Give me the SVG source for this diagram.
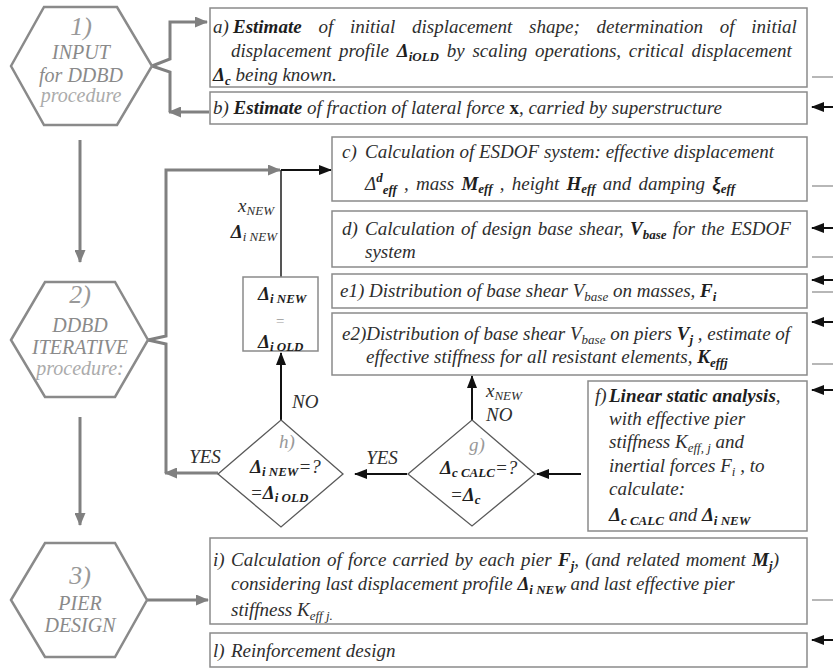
<svg xmlns="http://www.w3.org/2000/svg" width="833" height="670" viewBox="0 0 833 670">
<defs>
<style>
.t{font-family:"Liberation Serif","Times New Roman",serif;font-style:italic;font-size:19px;fill:#2e2e2e}
.b{font-weight:bold;fill:#1e1e1e}
.s{font-size:13px}
.hx{fill:#fff;stroke:#8a8a8a;stroke-width:2.5}
.hn{font-family:"Liberation Serif",serif;font-style:italic;font-size:26px;fill:#999;text-anchor:middle}
.hl{font-family:"Liberation Serif",serif;font-style:italic;font-size:20px;fill:#8a8a8a;text-anchor:middle}
.hp{fill:#ababab}
.box{fill:#fff;stroke:#8a8a8a;stroke-width:1.5}
.dm{fill:#fff;stroke:#5a5a5a;stroke-width:1.3}
.g{fill:none;stroke:#808080;stroke-width:3}
.k{fill:none;stroke:#111;stroke-width:2}
.m{fill:none;stroke:#a0a0a0;stroke-width:1.5}
.gr{fill:#999}
</style>
<marker id="ag" markerUnits="userSpaceOnUse" markerWidth="13" markerHeight="11" refX="12" refY="5.5" orient="auto"><path d="M0,0 L13,5.5 L0,11 z" fill="#808080"/></marker>
<marker id="ak" markerUnits="userSpaceOnUse" markerWidth="13" markerHeight="10" refX="12" refY="5" orient="auto"><path d="M0,0 L13,5 L0,10 z" fill="#111"/></marker>
</defs>
<rect width="833" height="670" fill="#fff"/>

<g id="connectors">
<path class="g" d="M152,66 L170,59 L170,22 L207,22" marker-end="url(#ag)"/>
<path class="g" d="M152,66 L170,72 L170,112"/>
<path class="g" d="M209,112 L169,112" marker-end="url(#ag)"/>
<path class="g" d="M80,140 L80,262" marker-end="url(#ag)"/>
<path class="g" d="M148,340 L166,336 L166,170 L280,170" marker-end="url(#ag)"/>
<path class="g" d="M148,340 L166,344 L166,473"/>
<path class="g" d="M218,473 L165,473" marker-end="url(#ag)"/>
<path class="g" d="M80,417 L80,525" marker-end="url(#ag)"/>
<path class="g" d="M147,600 L208,600" marker-end="url(#ag)"/>
<path fill="none" stroke="#555" stroke-width="2" d="M281,277 L281,170"/>
<path class="k" d="M281,170 L331,170" marker-end="url(#ak)"/>
<path class="k" d="M281,420 L281,353" marker-end="url(#ak)"/>
<path class="k" d="M472,420 L472,376" marker-end="url(#ak)"/>
<path class="k" d="M581,474 L537,474" marker-end="url(#ak)"/>
<path class="k" d="M407,474 L355,474" marker-end="url(#ak)"/>
<path class="k" d="M833,107 L812,107" marker-end="url(#ak)"/>
<path class="k" d="M833,228 L812,228" marker-end="url(#ak)"/>
<path class="k" d="M833,280 L812,280" marker-end="url(#ak)"/>
<path class="k" d="M833,322 L812,322" marker-end="url(#ak)"/>
<path class="k" d="M833,390 L812,390" marker-end="url(#ak)"/>
<path class="k" d="M833,640 L812,640" marker-end="url(#ak)"/>
<path class="m" d="M812,77 H833 M812,186 H833 M812,257 H833 M812,292 H833 M812,364 H833 M812,600 H833"/>
<text class="t" x="205" y="463" text-anchor="middle" fill="#333">YES</text>
<text class="t" x="382" y="464" text-anchor="middle">YES</text>
<text class="t" x="292" y="408">NO</text>
<text class="t" x="486" y="397">x<tspan class="s" dy="3">NEW</tspan></text>
<text class="t" x="486" y="421">NO</text>
<text class="t" x="274" y="212" text-anchor="end">x<tspan class="s" dy="3">NEW</tspan></text>
<text class="t" x="277" y="238" text-anchor="end"><tspan class="b">Δ</tspan><tspan class="s" dy="3">i NEW</tspan></text>
</g>

<g id="hex1">
<polygon class="hx" points="11,66 44,7 117,7 152,66 117,125 44,125"/>
<text class="hn" x="81" y="35">1)</text>
<text class="hl" x="81" y="59">INPUT</text>
<text class="hl" x="81" y="82">for DDBD</text>
<text class="hl hp" x="81" y="102">procedure</text>
</g>
<g id="hex2">
<polygon class="hx" points="11,340 45,282 115,282 148,340 115,397 45,397"/>
<text class="hn" x="80" y="303">2)</text>
<text class="hl" x="80" y="332">DDBD</text>
<text class="hl" x="80" y="354">ITERATIVE</text>
<text class="hl hp" x="80" y="375">procedure:</text>
</g>
<g id="hex3">
<polygon class="hx" points="11,600 45,543 115,543 147,600 115,657 45,657"/>
<text class="hn" x="80" y="584">3)</text>
<text class="hl" x="80" y="610">PIER</text>
<text class="hl" x="80" y="632">DESIGN</text>
</g>

<g id="box-a">
<rect class="box" x="210" y="8" width="597" height="79"/>
<text class="t" x="213" y="33">a)</text>
<text class="t" x="233" y="33" style="word-spacing:12px"><tspan class="b">Estimate</tspan> of initial displacement shape; determination of initial</text>
<text class="t" x="231" y="57" style="word-spacing:3px">displacement profile <tspan class="b">Δ</tspan><tspan class="s b" dy="4">iOLD</tspan><tspan dy="-4"> by scaling operations,  critical displacement</tspan></text>
<text class="t" x="213" y="81"><tspan class="b">Δ</tspan><tspan class="s b" dy="4">c</tspan><tspan dy="-4"> being known.</tspan></text>
</g>
<g id="box-b">
<rect class="box" x="210" y="92" width="597" height="32"/>
<text class="t" x="213" y="114">b) <tspan class="b">Estimate</tspan> of fraction of lateral force <tspan class="b" style="font-style:normal">x</tspan>, carried by superstructure</text>
</g>
<g id="box-c">
<rect class="box" x="332" y="137" width="475" height="64"/>
<text class="t" x="342" y="158">c)</text>
<text class="t" x="365" y="158">Calculation of  ESDOF system: effective displacement</text>
<text class="t" x="365" y="190" style="word-spacing:2.5px">Δ<tspan class="s b" dy="-8">d</tspan><tspan class="s b" dy="12">eff</tspan><tspan dy="-4"> , mass </tspan><tspan class="b">M</tspan><tspan class="s b" dy="3">eff</tspan><tspan dy="-3"> , height </tspan><tspan class="b">H</tspan><tspan class="s b" dy="3">eff</tspan><tspan dy="-3">  and damping </tspan><tspan class="b">ξ</tspan><tspan class="s b" dy="3">eff</tspan></text>
</g>
<g id="box-d">
<rect class="box" x="332" y="211" width="475" height="56"/>
<text class="t" x="342" y="235">d)</text>
<text class="t" x="365" y="235" style="word-spacing:1.5px">Calculation  of design base shear, <tspan class="b">V</tspan><tspan class="s b" dy="4">base</tspan><tspan dy="-4">  for the ESDOF</tspan></text>
<text class="t" x="365" y="258">system</text>
</g>
<g id="box-e1">
<rect class="box" x="332" y="274" width="475" height="34"/>
<text class="t" x="340" y="297">e1) Distribution of base shear V<tspan class="s" dy="4">base</tspan><tspan dy="-4"> on masses, </tspan><tspan class="b">F</tspan><tspan class="s b" dy="4">i</tspan></text>
</g>
<g id="box-e2">
<rect class="box" x="332" y="313" width="475" height="62"/>
<text class="t" x="342" y="340">e2)Distribution of base shear V<tspan class="s" dy="4">base</tspan><tspan dy="-4">  on piers </tspan><tspan class="b">V</tspan><tspan class="s b" dy="4">j</tspan><tspan dy="-4"> , estimate of</tspan></text>
<text class="t" x="366" y="363">effective stiffness for all resistant elements, <tspan class="b">K</tspan><tspan class="s b" dy="4">effj</tspan></text>
</g>
<g id="box-f">
<rect class="box" x="588" y="381" width="219" height="150"/>
<text class="t" x="595" y="402">f)</text>
<text class="t" x="609" y="402"><tspan class="b">Linear static analysis</tspan>,</text>
<text class="t" x="609" y="425">with effective pier</text>
<text class="t" x="609" y="448">stiffness K<tspan class="s" dy="4">eff, j</tspan><tspan dy="-4"> and</tspan></text>
<text class="t" x="609" y="472">inertial forces F<tspan class="s" dy="4">i</tspan><tspan dy="-4"> , to</tspan></text>
<text class="t" x="609" y="495">calculate:</text>
<text class="t" x="609" y="521"><tspan class="b">Δ</tspan><tspan class="s b" dy="4">c CALC</tspan><tspan dy="-4"> and </tspan><tspan class="b">Δ</tspan><tspan class="s b" dy="4">i NEW</tspan></text>
</g>
<g id="box-i">
<rect class="box" x="210" y="538" width="597" height="86"/>
<text class="t" x="213" y="566">i)</text>
<text class="t" x="231" y="566" style="word-spacing:1.5px">Calculation of  force carried by each pier <tspan class="b">F</tspan><tspan class="s b" dy="4">j</tspan><tspan dy="-4">, (and related moment </tspan><tspan class="b">M</tspan><tspan class="s b" dy="4">j</tspan><tspan dy="-4">)</tspan></text>
<text class="t" x="231" y="590">considering last displacement profile <tspan class="b">Δ</tspan><tspan class="s b" dy="4">i NEW</tspan><tspan dy="-4">  and last effective pier</tspan></text>
<text class="t" x="231" y="616">stiffness K<tspan class="s" dy="4">eff j.</tspan></text>
</g>
<g id="box-l">
<rect class="box" x="210" y="633" width="597" height="34"/>
<text class="t" x="213" y="657">l)</text>
<text class="t" x="231" y="657">Reinforcement design</text>
</g>
<g id="box-update">
<rect class="box" x="243" y="277" width="75" height="74"/>
<text class="t" x="258" y="300"><tspan class="b">Δ</tspan><tspan class="s b" dy="3">i NEW</tspan></text>
<text class="t gr" x="280" y="326" text-anchor="middle" style="font-size:15px">=</text>
<text class="t" x="258" y="348"><tspan class="b">Δ</tspan><tspan class="s b" dy="3">i OLD</tspan></text>
</g>
<g id="diamond-h">
<polygon class="dm" points="281,420 343,474 281,527 218,474"/>
<text class="t gr" x="279" y="448">h)</text>
<text class="t" x="250" y="473"><tspan class="b">Δ</tspan><tspan class="s b" dy="3">i NEW</tspan><tspan dy="-3">=?</tspan></text>
<text class="t" x="250" y="499">=<tspan class="b">Δ</tspan><tspan class="s b" dy="3">i OLD</tspan></text>
</g>
<g id="diamond-g">
<polygon class="dm" points="472,420 535,474 472,526 408,474"/>
<text class="t gr" x="469" y="451">g)</text>
<text class="t" x="440" y="474"><tspan class="b">Δ</tspan><tspan class="s b" dy="3">c CALC</tspan><tspan dy="-3">=?</tspan></text>
<text class="t" x="450" y="501">=<tspan class="b">Δ</tspan><tspan class="s b" dy="3">c</tspan></text>
</g>
</svg>
